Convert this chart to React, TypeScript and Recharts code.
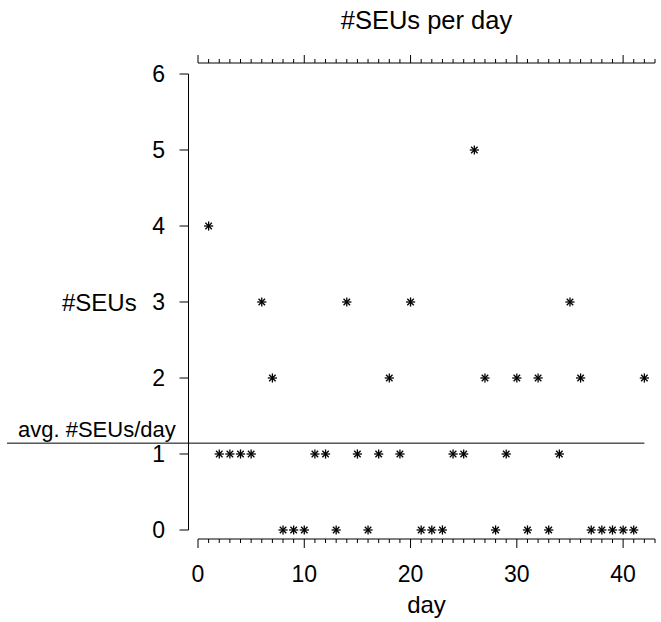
import { ScatterChart, Scatter, XAxis, YAxis, ReferenceLine } from 'recharts'

// SEUs counted per day
const DAYS = [
  1, 2, 3, 4, 5, 6, 7, 8, 9, 10, 11, 12, 13, 14, 15, 16, 17, 18, 19, 20, 21,
  22, 23, 24, 25, 26, 27, 28, 29, 30, 31, 32, 33, 34, 35, 36, 37, 38, 39, 40, 41, 42,
]
const SEUS = [
  4, 1, 1, 1, 1, 3, 2, 0, 0, 0, 1, 1, 0, 3, 1, 0, 1, 2, 1, 3, 0,
  0, 0, 1, 1, 5, 2, 0, 1, 2, 0, 2, 0, 1, 3, 2, 0, 0, 0, 0, 0, 2,
]
const X_TICKS = Array.from({ length: 44 }, (_, i) => i)
const Y_TICKS = [0, 1, 2, 3, 4, 5, 6]

const data = DAYS.map((d, i) => ({ day: d, seus: SEUS[i] }))
const AVG = SEUS.reduce((a, b) => a + b, 0) / SEUS.length

const FONT = '"Liberation Sans", Arial, Helvetica, sans-serif'
const FS = 23
const TOP_AXIS_Y = 63

// asterisk marker like pch 8
const Star = (p: any) => {
  const { cx, cy } = p
  const r = 4.6
  const d = r * 0.7071
  return (
    <g stroke="#000" strokeWidth={1.3}>
      <line x1={cx - r} y1={cy} x2={cx + r} y2={cy} />
      <line x1={cx} y1={cy - r} x2={cx} y2={cy + r} />
      <line x1={cx - d} y1={cy - d} x2={cx + d} y2={cy + d} />
      <line x1={cx - d} y1={cy + d} x2={cx + d} y2={cy - d} />
    </g>
  )
}

// bottom tick: also draws the matching tick of the top axis (same x)
const BottomTick = (p: any) => {
  const { x, y, payload } = p
  const major = payload.value % 10 === 0
  return (
    <g>
      <line x1={x} y1={y + 9} x2={x} y2={y + (major ? 18 : 13)} stroke="#000" strokeWidth={1} />
      <line
        x1={x}
        y1={TOP_AXIS_Y}
        x2={x}
        y2={TOP_AXIS_Y - (major ? 8 : 4)}
        stroke="#000"
        strokeWidth={1}
      />
      {major && (
        <text x={x} y={y + 52} textAnchor="middle" fontSize={FS} fontFamily={FONT} fill="#000">
          {payload.value}
        </text>
      )}
    </g>
  )
}

const AvgLine = (p: any) => (
  <g>
    <line x1={7} y1={p.y1} x2={p.x2} y2={p.y2} stroke="#000" strokeWidth={1} />
    <text x={18} y={p.y1 - 6} fontSize={22} fontFamily={FONT} fill="#000">
      avg. #SEUs/day
    </text>
  </g>
)

export default function App() {
  return (
    <div style={{ width: 661, height: 622 }}>
      <style>{`body{margin:0}`}</style>
      <ScatterChart width={661} height={622} margin={{ top: 0, right: 6, bottom: 0, left: 0 }}>
        <XAxis
          xAxisId="top"
          orientation="top"
          type="number"
          dataKey="day"
          domain={[0, 43]}
          ticks={X_TICKS}
          interval={0}
          height={74}
          tickSize={0}
          tickMargin={0}
          tick={false}
          axisLine={{ stroke: '#000', transform: 'translate(0,-11)' }}
          tickLine={false}
          label={{
            content: ({ viewBox }: any) => (
              <text
                x={viewBox.x + viewBox.width / 2}
                y={29}
                textAnchor="middle"
                fontSize={25.5}
                fontFamily={FONT}
                fill="#000"
              >
                #SEUs per day
              </text>
            ),
          }}
        />
        <XAxis
          xAxisId="bottom"
          orientation="bottom"
          type="number"
          dataKey="day"
          domain={[0, 43]}
          ticks={X_TICKS}
          interval={0}
          height={92}
          tickSize={0}
          tickMargin={0}
          tick={<BottomTick />}
          axisLine={{ stroke: '#000', transform: 'translate(0,9)' }}
          tickLine={false}
          label={{
            content: ({ viewBox }: any) => (
              <text
                x={viewBox.x + viewBox.width / 2}
                y={613}
                textAnchor="middle"
                fontSize={24}
                fontFamily={FONT}
                fill="#000"
              >
                day
              </text>
            ),
          }}
        />
        <YAxis
          type="number"
          dataKey="seus"
          domain={[0, 6]}
          ticks={Y_TICKS}
          interval={0}
          width={198}
          tickSize={9}
          tickMargin={24}
          axisLine={{ stroke: '#000', transform: 'translate(-9.5,0)' }}
          tickLine={{ stroke: '#000', transform: 'translate(-9.5,0)' }}
          tick={{ fontSize: FS, fontFamily: FONT, fill: '#000' }}
          label={{
            value: '#SEUs',
            position: 'insideLeft',
            offset: 62,
            fontSize: 24,
            fontFamily: FONT,
            fill: '#000',
          }}
        />
        <ReferenceLine
          xAxisId="bottom"
          segment={[
            { x: 0, y: AVG },
            { x: DAYS[DAYS.length - 1], y: AVG },
          ]}
          shape={AvgLine}
        />
        <Scatter xAxisId="bottom" data={data} shape={Star} isAnimationActive={false} />
      </ScatterChart>
    </div>
  )
}
